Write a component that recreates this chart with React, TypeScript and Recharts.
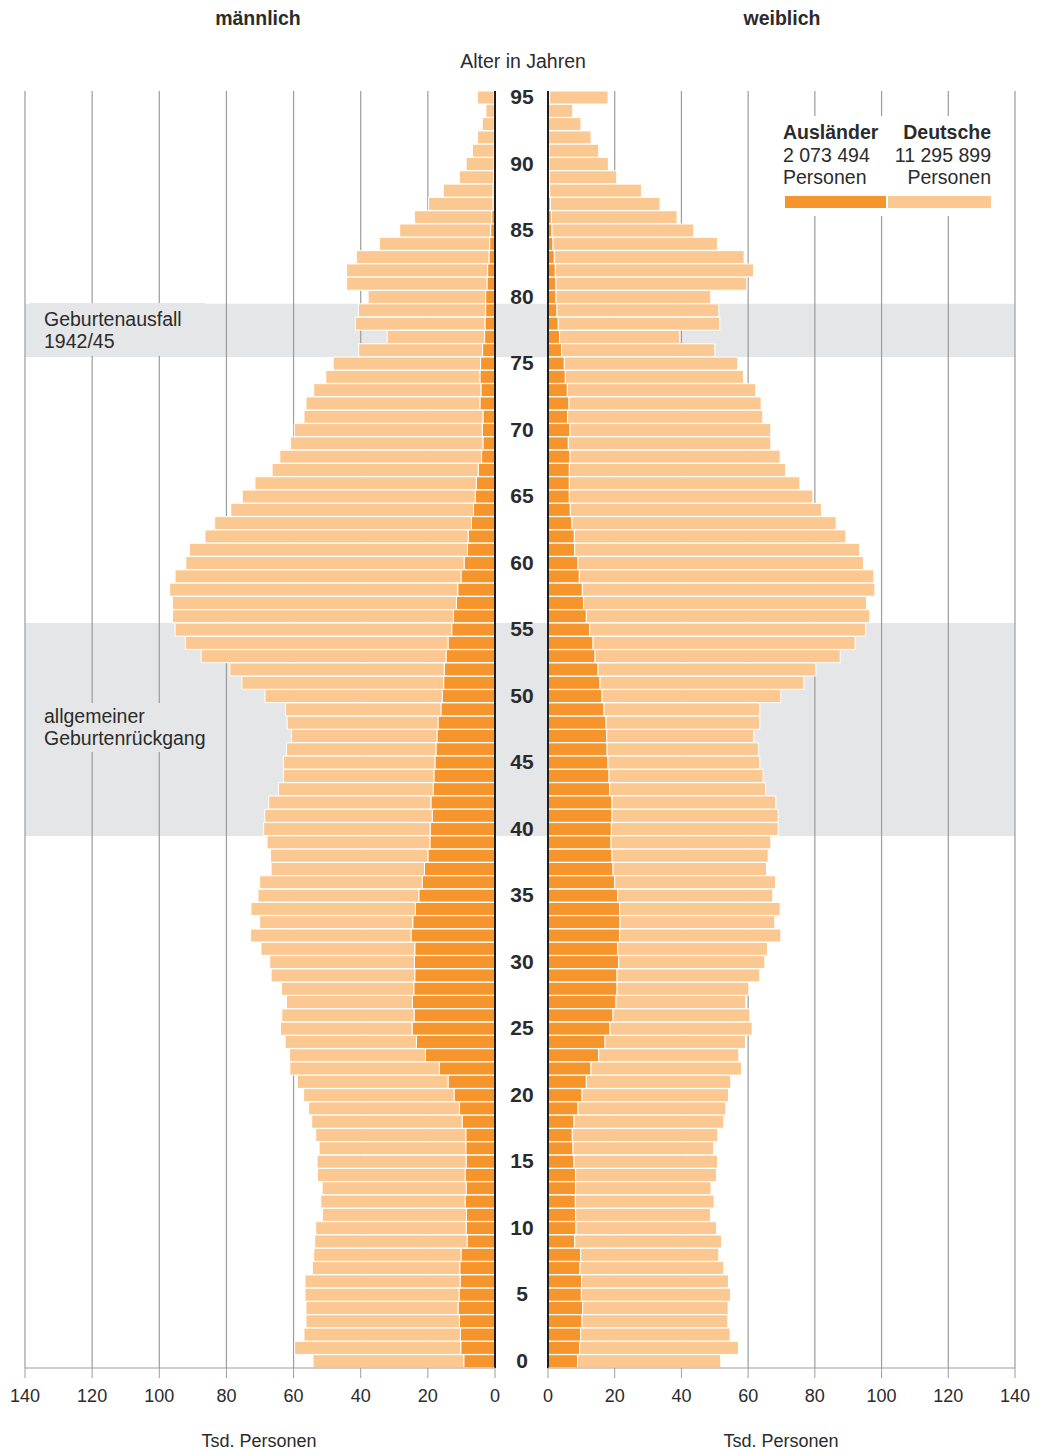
import React from 'react'
import { BarChart, Bar, XAxis, YAxis, CartesianGrid, ReferenceLine, ReferenceArea } from 'recharts'

// ages from top (95) to bottom (0)
const ages = Array.from({ length: 96 }, (_, i) => 95 - i)
const xTicks = [0, 20, 40, 60, 80, 100, 120, 140]

// Tsd. Personen, order 95 -> 0
const mAusl = [
  0.3, 0.2, 0.2, 0.2, 0.3, 0.3, 0.4, 0.6, 0.6, 1.0,
  1.3, 1.6, 1.8, 2.2, 2.4, 2.8, 2.8, 3.0, 3.1, 3.7,
  4.3, 4.5, 4.2, 4.5, 3.6, 3.8, 3.6, 4.0, 5.0, 5.6,
  5.9, 6.4, 7.0, 8.0, 8.2, 9.2, 10.1, 11.1, 11.5, 12.4,
  12.9, 14.0, 14.6, 15.1, 15.3, 15.7, 16.1, 17.0, 17.3, 17.6,
  17.9, 18.2, 18.4, 19.1, 18.7, 19.3, 19.4, 20.0, 21.0, 21.7,
  22.7, 23.7, 24.5, 25.0, 23.9, 24.0, 23.9, 24.2, 24.6, 24.1,
  24.7, 23.4, 20.7, 16.6, 14.0, 12.2, 10.6, 9.8, 8.7, 8.7,
  8.6, 8.9, 8.6, 8.9, 8.5, 8.6, 8.3, 10.1, 10.5, 10.4,
  10.7, 11.0, 10.6, 10.3, 10.2, 9.3,
]
const mDeut = [
  4.9, 2.5, 3.6, 5.0, 6.4, 8.3, 10.2, 14.8, 19.2, 23.0,
  27.1, 32.8, 39.5, 42.0, 41.8, 35.0, 37.9, 38.6, 29.0, 36.9,
  43.9, 45.9, 49.8, 51.8, 53.3, 56.0, 57.3, 60.1, 61.4, 65.9,
  69.4, 72.3, 76.5, 78.4, 82.8, 82.9, 85.2, 85.8, 84.6, 83.7,
  82.4, 78.2, 72.9, 63.9, 60.1, 52.8, 46.3, 44.9, 43.3, 44.5,
  45.1, 44.8, 46.1, 48.3, 49.9, 49.6, 48.5, 46.9, 45.7, 48.4,
  47.9, 49.0, 45.6, 47.8, 45.8, 43.1, 42.8, 39.4, 37.5, 39.4,
  39.2, 39.1, 40.5, 44.5, 44.9, 44.8, 44.9, 44.8, 44.7, 43.7,
  44.4, 44.0, 42.9, 43.0, 42.9, 44.8, 45.4, 43.9, 43.9, 46.2,
  45.9, 45.3, 45.7, 46.6, 49.5, 44.9,
]
const fAusl = [
  0.5, 0.2, 0.2, 0.2, 0.3, 0.3, 0.4, 0.5, 0.7, 1.0,
  1.2, 1.5, 1.9, 2.2, 2.4, 2.4, 2.7, 3.1, 3.5, 4.1,
  4.9, 5.2, 5.8, 6.3, 5.9, 6.6, 6.1, 6.6, 6.4, 6.4,
  6.4, 6.7, 7.2, 7.9, 8.0, 9.0, 9.4, 10.3, 10.7, 11.5,
  12.5, 13.5, 14.1, 15.0, 15.6, 16.2, 16.8, 17.4, 17.6, 17.7,
  18.0, 18.3, 18.5, 19.2, 19.2, 19.0, 18.9, 19.2, 19.5, 20.0,
  20.9, 21.5, 21.6, 21.5, 20.9, 21.2, 20.7, 20.7, 20.4, 19.5,
  18.6, 17.1, 15.2, 12.9, 11.5, 10.2, 9.0, 7.8, 7.3, 7.5,
  7.8, 8.3, 8.3, 8.2, 8.3, 8.4, 8.0, 9.8, 9.6, 10.1,
  10.0, 10.4, 10.2, 9.8, 9.5, 8.9,
]
const fDeut = [
  17.5, 7.2, 9.7, 12.7, 14.9, 17.8, 20.2, 27.5, 32.9, 37.7,
  42.5, 49.3, 56.9, 59.4, 57.2, 46.4, 48.5, 48.4, 36.0, 45.9,
  52.0, 53.4, 56.5, 57.6, 58.5, 60.2, 60.7, 63.0, 64.8, 69.1,
  73.0, 75.3, 79.2, 81.4, 85.4, 85.6, 88.3, 87.7, 84.8, 85.0,
  82.7, 78.6, 73.5, 65.3, 61.1, 53.6, 46.7, 46.1, 44.1, 45.4,
  45.5, 46.2, 46.7, 49.1, 49.8, 50.0, 47.9, 46.8, 46.0, 48.2,
  46.5, 48.1, 46.4, 48.3, 44.9, 43.8, 42.8, 39.5, 38.9, 41.0,
  42.6, 42.1, 42.0, 45.1, 43.3, 43.9, 44.3, 44.9, 43.6, 42.2,
  43.0, 42.2, 40.6, 41.6, 40.4, 42.1, 44.0, 41.4, 43.1, 44.0,
  44.7, 43.6, 43.7, 44.8, 47.6, 42.9,
]

const maleData = ages.map((age, i) => ({ age, ausl: mAusl[i], deut: mDeut[i] }))
const femaleData = ages.map((age, i) => ({ age, ausl: fAusl[i], deut: fDeut[i] }))

const DARK = '#F7952D'
const LIGHT = '#FCC891'
const BAND = '#E5E6E8'
const GRID = '#9c9c9c'
const TEXT = '#2b2b2b'
const FONT = '"Liberation Sans", Arial, Helvetica, sans-serif'

function ValueTick(props: any) {
  const { x, y, payload } = props
  return (
    <text x={x} y={y} dy={22} textAnchor="middle" fontSize={18} fill={TEXT} fontFamily={FONT}>
      {payload.value}
    </text>
  )
}

function AgeTick(props: any) {
  const { x, y, payload } = props
  return (
    <text x={x + 27} y={y} dy={6.5} textAnchor="middle" fontSize={21} fontWeight="bold" fill={TEXT} fontFamily={FONT}>
      {payload.value}
    </text>
  )
}

const abs = (left: number, top: number, extra: React.CSSProperties = {}): React.CSSProperties => ({
  position: 'absolute', left, top, fontFamily: FONT, color: TEXT, ...extra,
})

export default function App() {
  return (
    <div style={{ position: 'absolute', left: 0, top: 0, width: 1037, height: 1450, background: '#fff' }}>
      <div style={{ position: 'absolute', left: 0, top: 0 }}>
        <BarChart width={548} height={1450} data={maleData} layout="vertical" barCategoryGap={0}
          margin={{ top: 91, right: 0, bottom: 0, left: 25 }}>
          <ReferenceArea x1={140} x2={-16} y1={79} y2={76} fill={BAND} fillOpacity={1} stroke="none" ifOverflow="visible" zIndex={-200} />
          <ReferenceArea x1={140} x2={-16} y1={55} y2={40} fill={BAND} fillOpacity={1} stroke="none" ifOverflow="visible" zIndex={-200} />
          <CartesianGrid horizontal={false} stroke={GRID} strokeWidth={1.2} />
          <XAxis type="number" domain={[0, 140]} ticks={xTicks} interval={0} reversed height={82}
            tickSize={10} stroke={GRID} tick={<ValueTick />} />
          <YAxis type="category" dataKey="age" orientation="right" width={53} axisLine={false} tickLine={false}
            tickSize={0} tickMargin={0} interval={4} tick={<AgeTick />} />
          <Bar dataKey="ausl" stackId="m" fill={DARK} stroke="#fff" strokeWidth={1} isAnimationActive={false} />
          <Bar dataKey="deut" stackId="m" fill={LIGHT} stroke="#fff" strokeWidth={1} isAnimationActive={false} />
          <ReferenceLine x={0} stroke="#1e1e1e" strokeWidth={2} />
        </BarChart>
      </div>

      <div style={{ position: 'absolute', left: 530, top: 0 }}>
        <BarChart width={507} height={1450} data={femaleData} layout="vertical" barCategoryGap={0}
          margin={{ top: 91, right: 22, bottom: 0, left: 18 }}>
          <ReferenceArea x1={0} x2={140} y1={79} y2={76} fill={BAND} fillOpacity={1} stroke="none" ifOverflow="visible" zIndex={-200} />
          <ReferenceArea x1={0} x2={140} y1={55} y2={40} fill={BAND} fillOpacity={1} stroke="none" ifOverflow="visible" zIndex={-200} />
          <CartesianGrid horizontal={false} stroke={GRID} strokeWidth={1.2} />
          <XAxis type="number" domain={[0, 140]} ticks={xTicks} interval={0} height={82}
            tickSize={10} stroke={GRID} tick={<ValueTick />} />
          <YAxis type="category" dataKey="age" hide />
          <Bar dataKey="ausl" stackId="f" fill={DARK} stroke="#fff" strokeWidth={1} isAnimationActive={false} />
          <Bar dataKey="deut" stackId="f" fill={LIGHT} stroke="#fff" strokeWidth={1} isAnimationActive={false} />
          <ReferenceLine x={0} stroke="#1e1e1e" strokeWidth={2} />
        </BarChart>
      </div>

      {/* headers */}
      <div style={abs(158, 7, { width: 200, textAlign: 'center', fontSize: 19.5, fontWeight: 'bold', lineHeight: '22px' })}>männlich</div>
      <div style={abs(682, 7, { width: 200, textAlign: 'center', fontSize: 19.5, fontWeight: 'bold', lineHeight: '22px' })}>weiblich</div>
      <div style={abs(423, 50, { width: 200, textAlign: 'center', fontSize: 19.5, lineHeight: '22px' })}>Alter in Jahren</div>

      {/* band labels */}
      <div style={abs(30, 303, { width: 175, height: 53, background: BAND, fontSize: 19.5, lineHeight: '22px', paddingTop: 5, paddingLeft: 14, boxSizing: 'border-box' })}>
        Geburtenausfall<br />1942/45
      </div>
      <div style={abs(30, 703, { width: 190, height: 49, background: BAND, fontSize: 19.5, lineHeight: '22px', paddingTop: 2, paddingLeft: 14, boxSizing: 'border-box' })}>
        allgemeiner<br />Geburtenrückgang
      </div>

      {/* legend */}
      <div style={abs(776, 116, { width: 222, height: 100, background: '#fff' })}>
        <div style={abs(7, 5, { fontSize: 19.5, lineHeight: '22.5px' })}>
          <b>Ausländer</b><br />2 073 494<br />Personen
        </div>
        <div style={abs(0, 5, { width: 215, textAlign: 'right', fontSize: 19.5, lineHeight: '22.5px' })}>
          <b>Deutsche</b><br />11 295 899<br />Personen
        </div>
        <div style={abs(9, 80, { width: 101, height: 12, background: DARK })} />
        <div style={abs(112, 80, { width: 103, height: 12, background: LIGHT })} />
      </div>

      {/* axis titles */}
      <div style={abs(159, 1431, { width: 200, textAlign: 'center', fontSize: 18, lineHeight: '20px' })}>Tsd. Personen</div>
      <div style={abs(681, 1431, { width: 200, textAlign: 'center', fontSize: 18, lineHeight: '20px' })}>Tsd. Personen</div>
    </div>
  )
}
